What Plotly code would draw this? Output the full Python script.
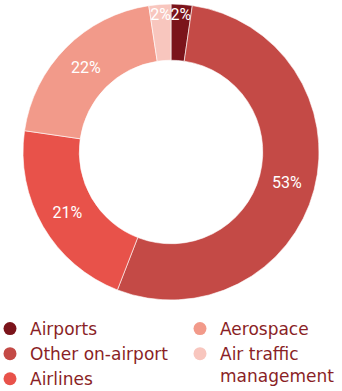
import plotly.graph_objects as go

categories = ["Airports", "Other on-airport", "Airlines", "Aerospace", "Air traffic management"]
legend_labels = ["Airports", "Other on-airport", "Airlines", "Aerospace", "Air traffic<br>management"]
values = [2.3, 53.6, 21.4, 20.3, 2.4]          # slice sizes as drawn
pct_labels = ["2%", "53%", "21%", "22%", "2%"]  # labels as printed
colors = ["#7b141b", "#c44a46", "#e8524a", "#f29a8a", "#f8c6be"]

LABEL_FONT = "Roboto, sans-serif"
LEGEND_FONT = "DejaVu Sans, sans-serif"
W, H = 342, 391

fig = go.Figure()
fig.add_trace(go.Pie(
    labels=categories, values=values, text=pct_labels, sort=False,
    direction="clockwise", rotation=0,
    hole=0.62, marker=dict(colors=colors, line=dict(color="white", width=0.6)),
    texttemplate="%{text}", textposition="inside", insidetextorientation="horizontal",
    textfont=dict(color="white", size=16, family=LABEL_FONT),
    showlegend=False, hoverinfo="label+percent",
    domain=dict(x=[23 / W, 319 / W], y=[1 - 300 / H, 1 - 4 / H]),
))

for i, (name, col) in enumerate(zip(legend_labels, colors)):
    fig.add_trace(go.Scatter(
        x=[None], y=[None], mode="markers", name=name,
        marker=dict(color=col, size=13, symbol="circle"),
        legend="legend" if i < 3 else "legend2",
    ))

legend_common = dict(
    font=dict(size=17, color="#8a1f26", family=LEGEND_FONT),
    bgcolor="rgba(0,0,0,0)", xanchor="left", yanchor="top", valign="top",
    itemclick=False, itemdoubleclick=False, tracegroupgap=0,
)
fig.update_layout(
    width=W, height=H, margin=dict(l=0, r=0, t=0, b=0, autoexpand=False),
    paper_bgcolor="white", plot_bgcolor="white",
    xaxis=dict(visible=False), yaxis=dict(visible=False),
    uniformtext=dict(minsize=16, mode="show"),
    legend=dict(x=-10 / W, y=1 - 311 / H, **legend_common),
    legend2=dict(x=180 / W, y=1 - 311 / H, **legend_common),
)
fig.write_html("out.html", config={"displayModeBar": False},
               post_script="document.body.style.margin='0';")
